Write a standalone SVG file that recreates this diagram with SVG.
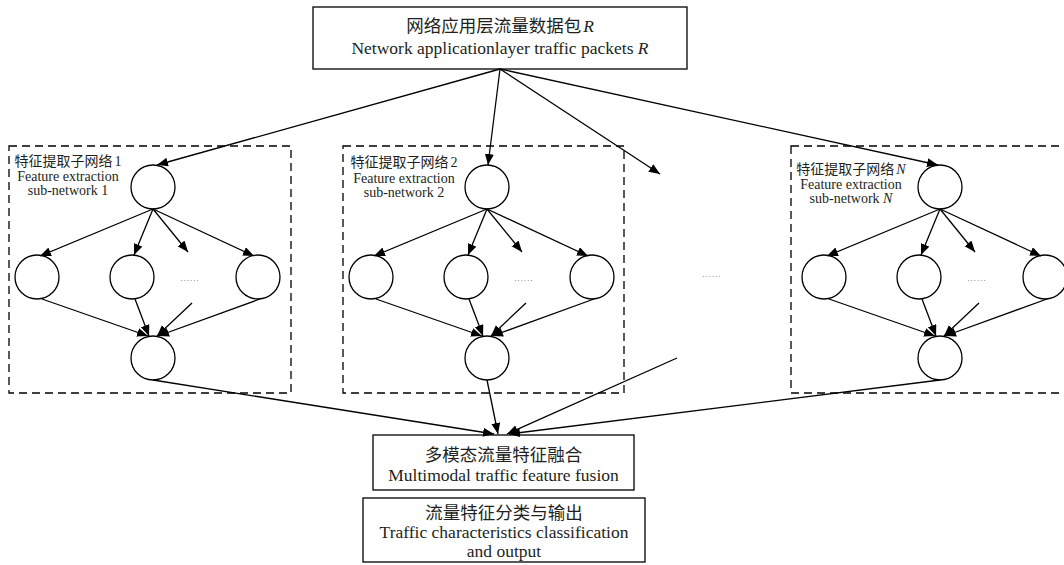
<svg xmlns="http://www.w3.org/2000/svg" width="1064" height="565" viewBox="0 0 1064 565">
<defs>
<marker id="ah" markerUnits="userSpaceOnUse" markerWidth="12" markerHeight="10" refX="11" refY="4.5" orient="auto">
<path d="M0,0 L11,4.5 L0,9 z" fill="#000"/>
</marker>
<style>
.box{fill:#fff;stroke:#000;stroke-width:1.3}
.dash{fill:none;stroke:#000;stroke-width:1.3;stroke-dasharray:8 5}
.nd{fill:#fff;stroke:#000;stroke-width:1.3}
.ln{fill:none;stroke:#000;stroke-width:1.3;marker-end:url(#ah)}
.pl{fill:none;stroke:#000;stroke-width:1.3}
.t{font-family:"Liberation Serif","Noto Sans CJK SC",serif;fill:#231f20;text-anchor:middle}
.big{font-size:17.5px}
.sm{font-size:14px}
.dots{font-family:"Liberation Serif",serif;font-size:8px;letter-spacing:1.2px;fill:#555;text-anchor:middle}
</style>
<g id="subnet-inner">
<circle class="nd" cx="0" cy="187" r="22"/>
<circle class="nd" cx="-116" cy="277" r="22"/>
<circle class="nd" cx="-21" cy="277" r="22"/>
<circle class="nd" cx="105" cy="277" r="22"/>
<circle class="nd" cx="0" cy="358" r="22"/>
<text class="dots" x="37" y="281">......</text>
<path class="ln" d="M0,209 L-113,256"/>
<path class="ln" d="M0,209 L-19,255"/>
<path class="ln" d="M0,209 L35,252"/>
<path class="ln" d="M0,209 L101,256"/>
<path class="ln" d="M-111,299 L-5,336"/>
<path class="ln" d="M-18,299 L-4,336"/>
<path class="ln" d="M39,303 L4,336"/>
<path class="ln" d="M107,299 L5,336"/>
</g>
</defs>

<g id="top-box">
<rect class="box" x="313" y="7" width="374" height="62"/>
<text class="t big" x="500" y="32">网络应用层流量数据包<tspan font-style="italic" dx="2">R</tspan></text>
<text class="t big" x="500" y="54">Network applicationlayer traffic packets <tspan font-style="italic">R</tspan></text>
</g>

<g id="subnet-1">
<rect class="dash" x="9" y="146" width="282" height="247"/>
<text class="t sm" x="68" y="166">特征提取子网络<tspan dx="2">1</tspan></text>
<text class="t sm" x="68" y="181">Feature extraction</text>
<text class="t sm" x="68" y="195">sub-network 1</text>
<use href="#subnet-inner" transform="translate(153,0)"/>
</g>

<g id="subnet-2">
<rect class="dash" x="343" y="146" width="281" height="247"/>
<text class="t sm" x="404" y="167">特征提取子网络<tspan dx="2">2</tspan></text>
<text class="t sm" x="404" y="183">Feature extraction</text>
<text class="t sm" x="404" y="197">sub-network 2</text>
<use href="#subnet-inner" transform="translate(487,0)"/>
</g>

<g id="subnet-mid">
<text class="dots" x="712" y="277">......</text>
</g>

<g id="subnet-N">
<rect class="dash" x="791" y="146" width="290" height="247"/>
<text class="t sm" x="851" y="174">特征提取子网络<tspan dx="2" font-style="italic">N</tspan></text>
<text class="t sm" x="851" y="189">Feature extraction</text>
<text class="t sm" x="851" y="203">sub-network <tspan font-style="italic">N</tspan></text>
<use href="#subnet-inner" transform="translate(940,0)"/>
</g>

<g id="fusion">
<rect class="box" x="373" y="435" width="261" height="55"/>
<text class="t big" x="503.5" y="461">多模态流量特征融合</text>
<text class="t big" x="503.5" y="481">Multimodal traffic feature fusion</text>
</g>

<g id="output">
<rect class="box" x="363" y="498" width="282" height="64"/>
<text class="t big" x="504" y="519">流量特征分类与输出</text>
<text class="t big" x="504" y="538">Traffic characteristics classification</text>
<text class="t big" x="504" y="557">and output</text>
</g>

<g id="connectors">
<path class="ln" d="M500,69 L157,165"/>
<path class="ln" d="M500,69 L488,165"/>
<path class="ln" d="M500,69 L660,174"/>
<path class="ln" d="M500,69 L938,165"/>
<path class="ln" d="M153,380 L494,434"/>
<path class="ln" d="M487,380 L498,434"/>
<path class="ln" d="M677,358 L507,434"/>
<path class="ln" d="M940,380 L509,434"/>
</g>
</svg>
